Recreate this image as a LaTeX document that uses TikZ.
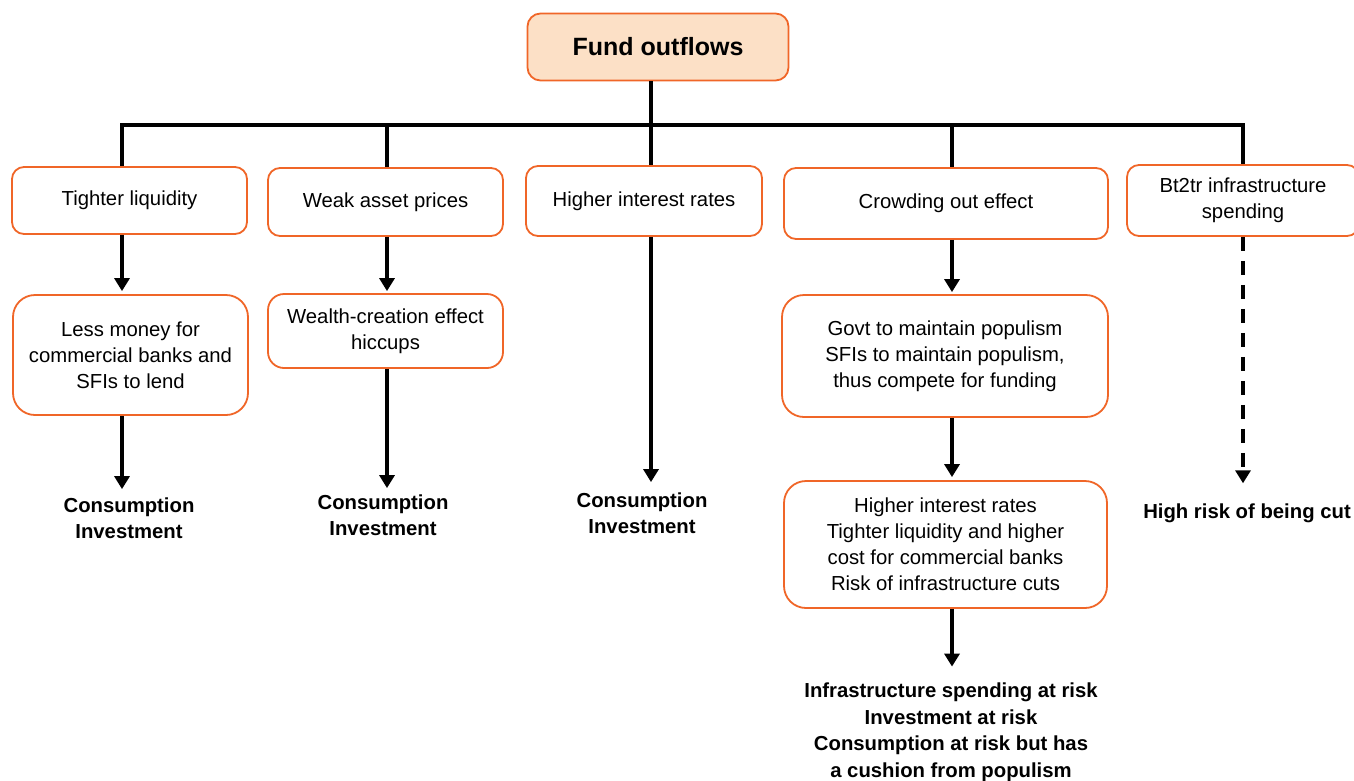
\documentclass[tikz,border=0pt]{standalone}
\usepackage{fontspec}
\setmainfont{Liberation Sans}
\usetikzlibrary{arrows.meta}
\definecolor{boxorange}{RGB}{240,102,40}
\definecolor{peach}{RGB}{252,224,198}
\tikzset{
  conn/.style={line width=3.6pt, draw=black},
  arr/.style={conn, -{Triangle[length=13pt,width=15pt]}},
  darr/.style={arr, dash pattern=on 14pt off 10pt},
  box/.style={draw=boxorange, line width=1.8pt, rounded corners=12pt, fill=white,
    align=center, inner sep=0pt, font=\fontsize{20.3}{26}\selectfont},
  bigbox/.style={box, rounded corners=22pt},
  res/.style={align=center, inner sep=0pt, font=\bfseries\fontsize{20.3}{26.5}\selectfont},
}
\begin{document}
\begin{tikzpicture}[x=1pt,y=-1pt]
\useasboundingbox (0,0) rectangle (1354,780);
% top
\node[box, fill=peach, rounded corners=13pt, minimum width=261pt, minimum height=67pt,
  font=\bfseries\fontsize{25}{30}\selectfont] (top) at (658,47) {Fund outflows};
% column coordinates
\coordinate (x1) at (122,0);
\coordinate (x2) at (387,0);
\coordinate (x3) at (651,0);
\coordinate (x4) at (952,0);
\coordinate (x5) at (1243,0);
\coordinate (bus) at (0,125);
% first row
\node[box, minimum width=235pt, minimum height=67pt] (b1) at (129.5,200.5) {Tighter liquidity};
\node[box, minimum width=235pt, minimum height=68pt] (b2) at (385.5,202) {Weak asset prices};
\node[box, minimum width=236pt, minimum height=70pt] (b3) at (644,201) {Higher interest rates};
\node[box, minimum width=324pt, minimum height=71pt] (b4) at (946,203.5) {Crowding out effect};
\node[box, minimum width=232pt, minimum height=71pt] (b5) at (1243,200.5) {Bt2tr infrastructure\\spending};
% second row
\node[bigbox, minimum width=235pt, minimum height=120pt] (c1) at (130.5,355) {Less money for\\commercial banks and\\SFIs to lend};
\node[box, rounded corners=16pt, minimum width=235pt, minimum height=74pt] (c2) at (385.5,331) {Wealth-creation effect\\hiccups};
\node[bigbox, minimum width=326pt, minimum height=122pt] (c4) at (945,356) {Govt to maintain populism\\SFIs to maintain populism,\\thus compete for funding};
\node[bigbox, minimum width=323pt, minimum height=127pt] (d4) at (945.5,544.5) {Higher interest rates\\Tighter liquidity and higher\\cost for commercial banks\\Risk of infrastructure cuts};
% results
\node[res] (r1) at (129,518) {Consumption\\Investment};
\node[res] (r2) at (383,515) {Consumption\\Investment};
\node[res] (r3) at (642,513) {Consumption\\Investment};
\node[res] (r4) at (951,732) {Infrastructure spending at risk\\Investment at risk\\Consumption at risk but has\\a cushion from populism};
\node[res] (r5) at (1247,513) {High risk of being cut};
% tree connectors
\draw[conn] (top.south -| x3) -- (bus -| x3);
\draw[conn, line cap=rect] (bus -| x1) -- (bus -| x5);
\draw[conn] (bus -| x1) -- (b1.north -| x1);
\draw[conn] (bus -| x2) -- (b2.north -| x2);
\draw[conn] (bus -| x3) -- (b3.north -| x3);
\draw[conn] (bus -| x4) -- (b4.north -| x4);
\draw[conn] (bus -| x5) -- (b5.north -| x5);
% arrows
\draw[arr, shorten >=3pt] (b1.south -| x1) -- (c1.north -| x1);
\draw[arr, shorten >=8pt] (c1.south -| x1) -- (r1.north -| x1);
\draw[arr, shorten >=2pt] (b2.south -| x2) -- (c2.north -| x2);
\draw[arr, shorten >=6pt] (c2.south -| x2) -- (r2.north -| x2);
\draw[arr, shorten >=10pt] (b3.south -| x3) -- (r3.north -| x3);
\draw[arr, shorten >=2pt] (b4.south -| x4) -- (c4.north -| x4);
\draw[arr, shorten >=3pt] (c4.south -| x4) -- (d4.north -| x4);
\draw[arr, shorten >=16pt] (d4.south -| x4) -- (r4.north -| x4);
\draw[darr, shorten >=20pt] (b5.south -| x5) -- (r5.north -| x5);
\end{tikzpicture}
\end{document}
